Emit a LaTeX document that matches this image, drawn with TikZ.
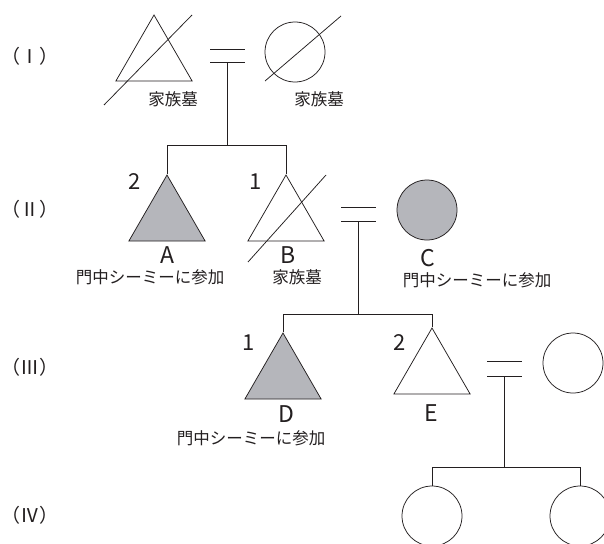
\documentclass[tikz,border=0pt]{standalone}
\usepackage{fontspec}
\newfontfamily\jpfont{Noto Sans CJK JP}
\usetikzlibrary{shapes.geometric,calc}
\definecolor{kingray}{RGB}{181,182,187}
\definecolor{inkline}{RGB}{35,31,32}
\tikzset{
  line/.style={draw=inkline,line width=0.75pt},
  male/.style={regular polygon,regular polygon sides=3,minimum size=88pt,inner sep=0pt,line},
  female/.style={circle,minimum size=60pt,inner sep=0pt,line},
  member/.style={fill=kingray},
  slash/.style={line},
  bond/.style={line},
  kin/.style={line},
  tag/.style={inner sep=0pt,text=inkline,font=\jpfont\fontsize{16.5}{16.5}\selectfont},
  letter/.style={inner sep=0pt,text=inkline,font=\jpfont\fontsize{23}{23}\selectfont},
  order/.style={inner sep=0pt,text=inkline,font=\jpfont\fontsize{22}{22}\selectfont},
  gen/.style={inner sep=0pt,text=inkline,font=\jpfont\fontsize{19}{19}\selectfont}
}
\begin{document}
\begin{tikzpicture}[x=1pt,y=-1pt]
  \useasboundingbox[fill=white] (0,0) rectangle (604,543);

  % generation labels
  \node[gen] (g1) at (30,56) {（Ⅰ）};
  \node[gen] (g2) at (30,209) {（Ⅱ）};
  \node[gen] (g3) at (30,367) {（Ⅲ）};
  \node[gen] (g4) at (30,515) {（Ⅳ）};

  % (I)
  \node[male] (f1) at (154,59) {};
  \node[female] (w1) at (295,52) {};
  \draw[slash] ($(f1)+(-50,46)$) -- ($(f1)+(38,-44)$);
  \draw[slash] ($(w1)+(-30,29)$) -- ($(w1)+(46,-36)$);
  \node[tag] (f1t) at (173,99) {家族墓};
  \node[tag] (w1t) at (319,99) {家族墓};
  \coordinate (m1) at (227.5,62);
  \draw[bond] ($(m1)+(-17.5,-13)$) -- ++(35,0);
  \draw[bond] ($(m1)+(-17.5,0)$) -- ++(35,0);

  % (II)
  \node[male,member] (A) at (167,219) {};
  \node[male] (B) at (286,219) {};
  \node[female,member] (C) at (427,210) {};
  \draw[slash] ($(B)+(-38,43)$) -- ($(B)+(40,-44)$);
  \node[order] (nA) at (135,182) {2};
  \node[order] (nB) at (256,182) {1};
  \node[letter] (lA) at (167,255) {A};
  \node[letter] (lB) at (288,255) {B};
  \node[letter] (lC) at (428,258) {C};
  \node[tag] (tA) at (150,277) {門中シーミーに参加};
  \node[tag] (tB) at (297,277) {家族墓};
  \node[tag] (tC) at (477,280) {門中シーミーに参加};
  \coordinate (s1) at (0,145);
  \draw[kin] (m1) -- (m1 |- s1);
  \draw[kin] (A.corner 1) -- (A.corner 1 |- s1) -- (B.corner 1 |- s1) -- (B.corner 1);
  \coordinate (m2) at (358.5,221);
  \draw[bond] ($(m2)+(-17.5,-14)$) -- ++(35,0);
  \draw[bond] ($(m2)+(-17.5,0)$) -- ++(35,0);

  % (III)
  \node[male,member] (D) at (283,377) {};
  \node[male] (E) at (432,372) {};
  \node[female] (w3) at (573,363) {};
  \node[order] (nD) at (249,343) {1};
  \node[order] (nE) at (400,343) {2};
  \node[letter] (lD) at (286,414) {D};
  \node[letter] (lE) at (431,413) {E};
  \node[tag] (tD) at (251,438) {門中シーミーに参加};
  \coordinate (s2) at (0,314);
  \draw[kin] (m2) -- (m2 |- s2);
  \draw[kin] (D.corner 1) -- (D.corner 1 |- s2) -- (E.corner 1 |- s2) -- (E.corner 1);
  \coordinate (m3) at (504.5,376);
  \draw[bond] ($(m3)+(-17.5,-15)$) -- ++(35,0);
  \draw[bond] ($(m3)+(-17.5,0)$) -- ++(35,0);

  % (IV)
  \node[female] (c1) at (432,516) {};
  \node[female] (c2) at (580,516) {};
  \coordinate (s3) at (0,467);
  \draw[kin] (m3) -- (m3 |- s3);
  \draw[kin] (c1.north) -- (c1.north |- s3) -- (c2.north |- s3) -- (c2.north);
\end{tikzpicture}
\end{document}
